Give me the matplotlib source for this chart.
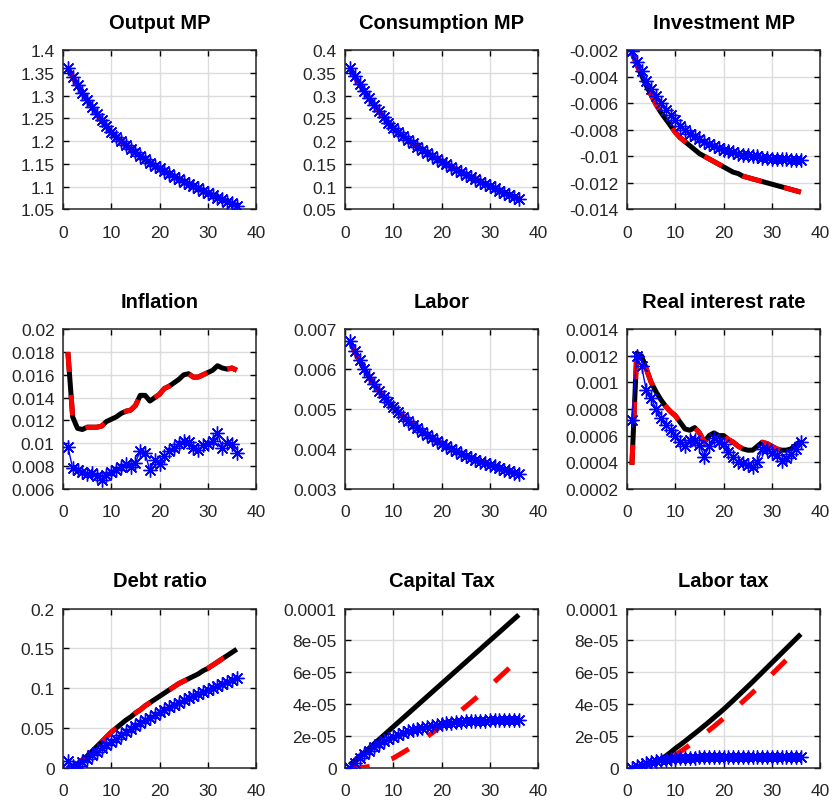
import numpy as np
import matplotlib
matplotlib.use("Agg")
import matplotlib.pyplot as plt
from matplotlib.ticker import FormatStrFormatter

plt.rcParams["font.family"] = ["Liberation Sans", "DejaVu Sans"]

# ── data (36 quarters) ───────────────────────────────────────────────────────
periods = list(range(1, 37))

output_mp = [1.360, 1.341, 1.323, 1.306, 1.290, 1.275, 1.260, 1.246, 1.232, 1.219,
             1.209, 1.200, 1.191, 1.183, 1.175, 1.167, 1.160, 1.152, 1.146, 1.140,
             1.134, 1.128, 1.122, 1.117, 1.111, 1.106, 1.101, 1.096, 1.091, 1.086,
             1.081, 1.076, 1.072, 1.067, 1.063, 1.058]

consumption_mp = [0.360, 0.342, 0.325, 0.309, 0.294, 0.280, 0.266, 0.253, 0.240, 0.228,
                  0.219, 0.211, 0.203, 0.195, 0.188, 0.181, 0.174, 0.167, 0.161, 0.155,
                  0.149, 0.143, 0.137, 0.132, 0.126, 0.121, 0.116, 0.111, 0.106, 0.101,
                  0.096, 0.091, 0.087, 0.082, 0.078, 0.073]

investment_mp = [-0.0022, -0.0031, -0.0039, -0.0047, -0.0054, -0.0061, -0.0067, -0.0072,
                 -0.0077, -0.0082, -0.0086, -0.0089, -0.0092, -0.0095, -0.0098, -0.0100,
                 -0.0102, -0.0104, -0.0106, -0.0108, -0.0110, -0.0112, -0.0113, -0.0115,
                 -0.0116, -0.0117, -0.0118, -0.0119, -0.0120, -0.0121, -0.0122, -0.0123,
                 -0.0124, -0.0125, -0.0126, -0.0127]
investment_mp_alt = [-0.0021, -0.0029, -0.0036, -0.0043, -0.0049, -0.0055, -0.0060, -0.0065,
                     -0.0069, -0.0073, -0.0077, -0.0080, -0.0083, -0.0085, -0.0087, -0.0089,
                     -0.0091, -0.0092, -0.0094, -0.0095, -0.0096, -0.0097, -0.0098, -0.0099,
                     -0.0099, -0.0100, -0.0100, -0.0101, -0.0101, -0.0102, -0.0102, -0.0102,
                     -0.0102, -0.0103, -0.0103, -0.0103]

inflation = [0.0180, 0.0123, 0.0113, 0.0112, 0.0114, 0.0114, 0.0114, 0.0115, 0.0119, 0.0121,
             0.0123, 0.0126, 0.0128, 0.0129, 0.0133, 0.0142, 0.0142, 0.0137, 0.0140, 0.0143,
             0.0148, 0.0150, 0.0153, 0.0156, 0.0160, 0.0161, 0.0158, 0.0158, 0.0160, 0.0162,
             0.0164, 0.0168, 0.0166, 0.0165, 0.0166, 0.0164]
inflation_alt = [0.0097, 0.0078, 0.0076, 0.0075, 0.0073, 0.0074, 0.0071, 0.0068, 0.0072, 0.0075,
                 0.0076, 0.0079, 0.0082, 0.0079, 0.0083, 0.0093, 0.0091, 0.0076, 0.0085, 0.0082,
                 0.0089, 0.0093, 0.0096, 0.0099, 0.0102, 0.0101, 0.0096, 0.0094, 0.0098, 0.0099,
                 0.0102, 0.0109, 0.0096, 0.0100, 0.0099, 0.0091]

labor = [0.00670, 0.00645, 0.00622, 0.00600, 0.00580, 0.00562, 0.00546, 0.00531, 0.00517,
         0.00504, 0.00492, 0.00481, 0.00471, 0.00461, 0.00452, 0.00443, 0.00435, 0.00427,
         0.00420, 0.00413, 0.00406, 0.00400, 0.00394, 0.00388, 0.00383, 0.00378, 0.00373,
         0.00368, 0.00364, 0.00360, 0.00356, 0.00352, 0.00348, 0.00344, 0.00340, 0.00336]

real_rate = [0.00038, 0.00122, 0.00120, 0.00110, 0.00100, 0.00093, 0.00087, 0.00082, 0.00078,
             0.00075, 0.00070, 0.00065, 0.00064, 0.00066, 0.00062, 0.00055, 0.00060, 0.00062,
             0.00060, 0.00060, 0.00057, 0.00055, 0.00052, 0.00050, 0.00049, 0.00049, 0.00052,
             0.00055, 0.00054, 0.00052, 0.00050, 0.00049, 0.00049, 0.00050, 0.00053, 0.00056]
real_rate_alt = [0.00072, 0.00120, 0.00112, 0.00094, 0.00088, 0.00080, 0.00073, 0.00068, 0.00064,
                 0.00060, 0.00055, 0.00052, 0.00057, 0.00057, 0.00053, 0.00044, 0.00052, 0.00058,
                 0.00055, 0.00054, 0.00048, 0.00044, 0.00040, 0.00039, 0.00038, 0.00036, 0.00040,
                 0.00050, 0.00050, 0.00047, 0.00045, 0.00041, 0.00043, 0.00046, 0.00050, 0.00055]

debt_ratio = [0.003, 0.002, 0.005, 0.010, 0.015, 0.021, 0.027, 0.033, 0.039, 0.045,
              0.050, 0.055, 0.060, 0.064, 0.069, 0.073, 0.078, 0.082, 0.086, 0.090,
              0.094, 0.098, 0.102, 0.106, 0.109, 0.112, 0.115, 0.118, 0.122, 0.125,
              0.129, 0.133, 0.137, 0.141, 0.145, 0.149]
debt_ratio_alt = [0.009, 0.003, 0.003, 0.007, 0.011, 0.016, 0.020, 0.025, 0.029, 0.033,
                  0.037, 0.041, 0.045, 0.049, 0.053, 0.056, 0.060, 0.063, 0.067, 0.070,
                  0.073, 0.076, 0.079, 0.082, 0.085, 0.088, 0.090, 0.093, 0.095, 0.098,
                  0.100, 0.103, 0.105, 0.108, 0.110, 0.113]

# tax series in units of 1e-5
capital_tax_e5 = [0.20, 0.45, 0.70, 0.97, 1.24, 1.51, 1.78, 2.05, 2.32, 2.59,
                  2.86, 3.13, 3.40, 3.67, 3.94, 4.21, 4.48, 4.75, 5.02, 5.29,
                  5.56, 5.83, 6.10, 6.37, 6.64, 6.91, 7.18, 7.45, 7.72, 7.99,
                  8.26, 8.53, 8.80, 9.07, 9.34, 9.61]
capital_tax_red_e5 = [0.00, 0.00, 0.01, 0.05, 0.10, 0.17, 0.27, 0.38, 0.50, 0.62,
                      0.80, 0.98, 1.16, 1.35, 1.55, 1.75, 1.97, 2.19, 2.42, 2.65,
                      2.88, 3.12, 3.36, 3.60, 3.85, 4.10, 4.36, 4.62, 4.88, 5.15,
                      5.42, 5.70, 5.98, 6.26, 6.55, 6.84]
capital_tax_alt_e5 = [0.00, 0.30, 0.60, 0.85, 1.08, 1.30, 1.50, 1.68, 1.83, 1.97,
                      2.09, 2.20, 2.30, 2.39, 2.47, 2.54, 2.60, 2.66, 2.71, 2.76,
                      2.80, 2.84, 2.87, 2.90, 2.92, 2.94, 2.96, 2.97, 2.98, 2.99,
                      3.00, 3.00, 3.00, 3.00, 3.00, 2.99]

labor_tax_e5 = [0.00, 0.02, 0.06, 0.13, 0.24, 0.38, 0.55, 0.75, 0.98, 1.23,
                1.45, 1.68, 1.92, 2.16, 2.40, 2.65, 2.90, 3.16, 3.42, 3.68,
                3.96, 4.24, 4.53, 4.82, 5.11, 5.40, 5.70, 6.00, 6.30, 6.60,
                6.90, 7.20, 7.50, 7.80, 8.10, 8.40]
labor_tax_red_e5 = [0.00, 0.01, 0.03, 0.07, 0.13, 0.21, 0.32, 0.46, 0.63, 0.82,
                    1.02, 1.23, 1.45, 1.67, 1.90, 2.13, 2.37, 2.61, 2.86, 3.11,
                    3.37, 3.63, 3.90, 4.17, 4.45, 4.73, 5.01, 5.30, 5.59, 5.88,
                    6.18, 6.48, 6.78, 7.09, 7.40, 7.72]
labor_tax_alt_e5 = [0.00, 0.12, 0.22, 0.31, 0.38, 0.44, 0.49, 0.53, 0.57, 0.60,
                    0.62, 0.64, 0.65, 0.66, 0.67, 0.68, 0.68, 0.69, 0.69, 0.70,
                    0.70, 0.70, 0.70, 0.70, 0.70, 0.70, 0.70, 0.70, 0.70, 0.70,
                    0.70, 0.70, 0.70, 0.70, 0.70, 0.70]

E5 = 1e-5
panels = [
    ("Output MP", output_mp, output_mp, output_mp, (1.05, 1.4), 0.05),
    ("Consumption MP", consumption_mp, consumption_mp, consumption_mp, (0.05, 0.4), 0.05),
    ("Investment MP", investment_mp, investment_mp, investment_mp_alt, (-0.014, -0.002), 0.002),
    ("Inflation", inflation, inflation, inflation_alt, (0.006, 0.02), 0.002),
    ("Labor", labor, labor, labor, (0.003, 0.007), 0.001),
    ("Real interest rate", real_rate, real_rate, real_rate_alt, (0.0002, 0.0014), 0.0002),
    ("Debt ratio", debt_ratio, debt_ratio, debt_ratio_alt, (0, 0.2), 0.05),
    ("Capital Tax", np.array(capital_tax_e5) * E5, np.array(capital_tax_red_e5) * E5,
     np.array(capital_tax_alt_e5) * E5, (0, 1e-4), 2e-5),
    ("Labor tax", np.array(labor_tax_e5) * E5, np.array(labor_tax_red_e5) * E5,
     np.array(labor_tax_alt_e5) * E5, (0, 1e-4), 2e-5),
]

# ── drawing ──────────────────────────────────────────────────────────────────
fig, axes = plt.subplots(3, 3, figsize=(8.36, 8.04), dpi=100)
plt.subplots_adjust(left=0.0754, right=0.981, top=0.9366, bottom=0.0435,
                    wspace=0.461, hspace=0.752)

for ax, (title, black, red, blue, ylim, ystep) in zip(axes.flat, panels):
    ax.plot(periods, black, color="black", lw=3.6, solid_capstyle="butt", zorder=2)
    ax.plot(periods, red, color="#ff0000", lw=3.6, dashes=(4.0, 4.6),
            dash_capstyle="butt", zorder=3)
    ax.plot(periods, blue, color="#0000ff", lw=1.0, marker=(8, 2, 0),
            markersize=10, markeredgewidth=1.0, zorder=4)

    ax.set_xlim(0, 40)
    ax.set_ylim(*ylim)
    ax.set_xticks([0, 10, 20, 30, 40])
    ax.set_yticks(np.arange(ylim[0], ylim[1] + ystep / 2, ystep))
    ax.xaxis.set_major_formatter(FormatStrFormatter("%g"))
    ax.yaxis.set_major_formatter(FormatStrFormatter("%g"))

    ax.grid(True, color="#dcdcdc", lw=1.0)
    ax.set_axisbelow(True)
    ax.tick_params(direction="in", length=4, width=1, top=True, right=True,
                   labelsize=12.5, labelcolor="#262626")
    ax.tick_params(axis="x", pad=11)
    ax.tick_params(axis="y", pad=6)
    for sp in ax.spines.values():
        sp.set_linewidth(1.1)
        sp.set_color("#262626")

    ax.set_title(title, fontsize=14.5, fontweight="bold", pad=16)

plt.savefig("out.png", dpi=100, facecolor="white")
plt.close(fig)
